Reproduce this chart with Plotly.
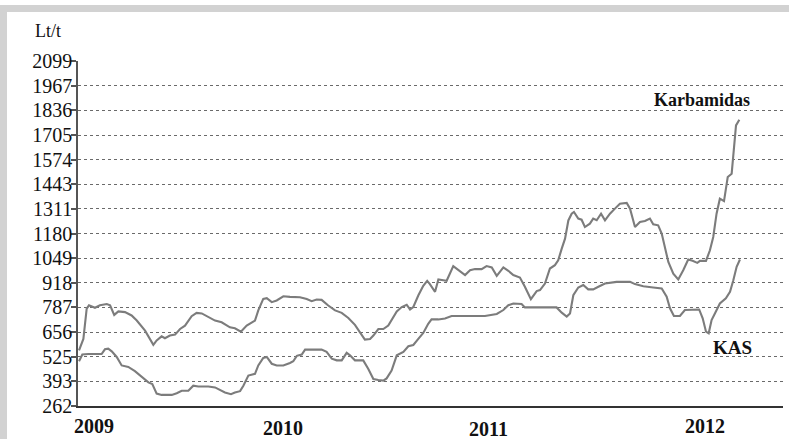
import plotly.graph_objects as go

# Decimal-year positions and prices (Lt/t)
karb_t = [2009.005, 2009.026, 2009.042, 2009.053, 2009.082, 2009.106, 2009.139, 2009.155, 2009.175, 2009.195,
          2009.227, 2009.259, 2009.284, 2009.324, 2009.364, 2009.380, 2009.404, 2009.420, 2009.444, 2009.469,
          2009.493, 2009.517, 2009.549, 2009.573, 2009.598, 2009.630, 2009.662, 2009.694, 2009.734, 2009.758,
          2009.787, 2009.815, 2009.855, 2009.871, 2009.895, 2009.912, 2009.936, 2009.960, 2009.992, 2010.024,
          2010.072, 2010.105, 2010.129, 2010.153, 2010.177, 2010.209, 2010.242, 2010.274, 2010.306, 2010.338,
          2010.362, 2010.386, 2010.411, 2010.427, 2010.451, 2010.475, 2010.499, 2010.540, 2010.564, 2010.588,
          2010.604, 2010.620, 2010.644, 2010.668, 2010.687, 2010.700, 2010.725, 2010.741, 2010.765, 2010.781,
          2010.813, 2010.837, 2010.870, 2010.894, 2010.918, 2010.950, 2010.974, 2010.999, 2011.023, 2011.055,
          2011.079, 2011.103, 2011.135, 2011.159, 2011.188, 2011.216, 2011.232, 2011.256, 2011.280, 2011.304,
          2011.320, 2011.337, 2011.353, 2011.369, 2011.385, 2011.396, 2011.417, 2011.433, 2011.449, 2011.473,
          2011.489, 2011.506, 2011.527, 2011.546, 2011.570, 2011.594, 2011.618, 2011.651, 2011.667, 2011.691,
          2011.715, 2011.739, 2011.763, 2011.779, 2011.803, 2011.820, 2011.836, 2011.852, 2011.876, 2011.900,
          2011.924, 2011.948, 2011.969, 2011.992, 2012.005, 2012.034, 2012.053, 2012.069, 2012.085, 2012.101,
          2012.121, 2012.139, 2012.158, 2012.169, 2012.179, 2012.195]
karb_v = [558, 619, 780, 798, 785, 798, 805, 798, 747, 766,
          762, 744, 717, 663, 588, 611, 633, 623, 637, 642,
          672, 690, 740, 758, 755, 735, 717, 708, 681, 676,
          658, 690, 717, 771, 832, 836, 815, 824, 846, 843,
          841, 832, 820, 829, 827, 797, 771, 758, 731, 694,
          655, 616, 619, 637, 672, 672, 690, 766, 789, 801,
          776, 789, 850, 902, 928, 911, 870, 936, 932, 929,
          1007, 985, 959, 985, 991, 991, 1007, 1000, 955, 1000,
          982, 959, 946, 897, 831, 874, 879, 914, 994, 1012,
          1038, 1100, 1153, 1250, 1286, 1295, 1260, 1254, 1215, 1233,
          1260, 1251, 1286, 1251, 1286, 1313, 1339, 1343, 1313, 1215,
          1242, 1247, 1260, 1229, 1224, 1180, 1109, 1029, 967, 936,
          985, 1042, 1035, 1024, 1035, 1035, 1091, 1162, 1286, 1366,
          1353, 1481, 1499, 1641, 1756, 1786]

kas_t = [2009.005, 2009.021, 2009.050, 2009.114, 2009.130, 2009.146, 2009.163, 2009.187, 2009.211, 2009.243,
         2009.275, 2009.308, 2009.340, 2009.359, 2009.380, 2009.404, 2009.453, 2009.477, 2009.501, 2009.533,
         2009.557, 2009.581, 2009.630, 2009.662, 2009.686, 2009.710, 2009.739, 2009.758, 2009.783, 2009.799,
         2009.823, 2009.855, 2009.871, 2009.895, 2009.912, 2009.936, 2009.960, 2009.992, 2010.024, 2010.040,
         2010.057, 2010.081, 2010.097, 2010.129, 2010.177, 2010.201, 2010.226, 2010.250, 2010.274, 2010.298,
         2010.314, 2010.338, 2010.378, 2010.402, 2010.427, 2010.451, 2010.475, 2010.491, 2010.515, 2010.540,
         2010.572, 2010.596, 2010.620, 2010.644, 2010.668, 2010.692, 2010.708, 2010.741, 2010.773, 2010.805,
         2010.870, 2010.966, 2011.023, 2011.055, 2011.079, 2011.103, 2011.143, 2011.159, 2011.208, 2011.272,
         2011.312, 2011.337, 2011.361, 2011.377, 2011.393, 2011.417, 2011.441, 2011.465, 2011.489, 2011.514,
         2011.538, 2011.546, 2011.602, 2011.667, 2011.691, 2011.731, 2011.779, 2011.820, 2011.844, 2011.860,
         2011.879, 2011.908, 2011.932, 2011.965, 2012.001, 2012.018, 2012.034, 2012.047, 2012.061, 2012.077,
         2012.101, 2012.130, 2012.150, 2012.166, 2012.182, 2012.198]
kas_v = [500, 536, 539, 539, 564, 567, 553, 523, 478, 470,
         448, 419, 388, 379, 328, 321, 321, 330, 343, 343,
         370, 366, 366, 361, 348, 334, 325, 334, 341, 370,
         424, 433, 478, 518, 523, 487, 478, 478, 491, 500,
         529, 536, 562, 562, 562, 550, 514, 505, 505, 545,
         532, 505, 505, 460, 406, 400, 397, 409, 451, 532,
         550, 580, 587, 619, 651, 700, 723, 723, 728, 741,
         741, 741, 752, 773, 799, 808, 805, 787, 787, 787,
         787, 759, 738, 755, 852, 893, 906, 883, 883, 897,
         911, 914, 923, 923, 911, 900, 893, 888, 844, 782,
         741, 741, 773, 776, 776, 729, 658, 649, 720, 755,
         808, 835, 870, 932, 1003, 1042]

y_ticks = [262, 393, 525, 656, 787, 918, 1049, 1180, 1311, 1443, 1574, 1705, 1836, 1967, 2099]
year_labels = ["2009", "2010", "2011", "2012"]
year_pos = [2009.077, 2009.990, 2010.981, 2012.029]
year_label_y = [-0.059, -0.064, -0.067, -0.059]

SERIF = "Liberation Serif, Times New Roman, serif"
LINE = "#7c7c7c"

fig = go.Figure()
fig.add_trace(go.Scatter(x=karb_t, y=karb_v, mode="lines", name="Karbamidas",
                         line=dict(color=LINE, width=2.1), showlegend=False))
fig.add_trace(go.Scatter(x=kas_t, y=kas_v, mode="lines", name="KAS",
                         line=dict(color=LINE, width=2.1), showlegend=False))

annotations = [
    dict(text="Lt/t", x=-0.0426, y=1.087, xref="paper", yref="paper", showarrow=False,
         xanchor="center", yanchor="middle",
         font=dict(family=SERIF, size=18, color="#111")),
    dict(text="<b>Karbamidas</b>", x=2012.014, y=1890, xref="x", yref="y", showarrow=False,
         xanchor="center", yanchor="middle",
         font=dict(family=SERIF, size=18, color="#111")),
    dict(text="<b>KAS</b>", x=2012.164, y=571, xref="x", yref="y", showarrow=False,
         xanchor="center", yanchor="middle",
         font=dict(family=SERIF, size=19, color="#111")),
]
for lab, xp, yp in zip(year_labels, year_pos, year_label_y):
    annotations.append(dict(text="<b>" + lab + "</b>", x=xp, y=yp, xref="x", yref="paper",
                            showarrow=False, xanchor="center", yanchor="middle",
                            font=dict(family=SERIF, size=20, color="#111")))

shapes = [
    # light grey frame strips (left and top)
    dict(type="rect", xref="paper", yref="paper", x0=-0.111, x1=-0.1007, y0=-0.1, y1=1.162,
         fillcolor="#d2d2d2", line=dict(width=0), layer="below"),
    dict(type="rect", xref="paper", yref="paper", x0=-0.111, x1=1.01, y0=1.142, y1=1.162,
         fillcolor="#d2d2d2", line=dict(width=0), layer="below"),
]

fig.update_layout(
    width=789, height=439,
    margin=dict(l=78, r=6, t=61, b=33),
    paper_bgcolor="white", plot_bgcolor="white",
    annotations=annotations, shapes=shapes,
    xaxis=dict(range=[2009.0, 2012.406], showgrid=False, zeroline=False,
               showline=True, linecolor="#333", linewidth=1.5,
               showticklabels=False, ticks=""),
    yaxis=dict(range=[262, 2099], tickvals=y_ticks, ticktext=[str(v) for v in y_ticks],
               showgrid=True, gridcolor="#6a6a6a", gridwidth=1, griddash="dot",
               zeroline=False, showline=True, linecolor="#555", linewidth=1.5,
               ticks="outside", ticklen=5, tickcolor="#555", tickwidth=1.5,
               ticklabelstandoff=-5,
               tickfont=dict(family=SERIF, size=20, color="#111")),
)

fig.write_html("out.html", config={"displayModeBar": False},
               post_script="document.body.style.margin='0';document.body.style.overflow='hidden';")
